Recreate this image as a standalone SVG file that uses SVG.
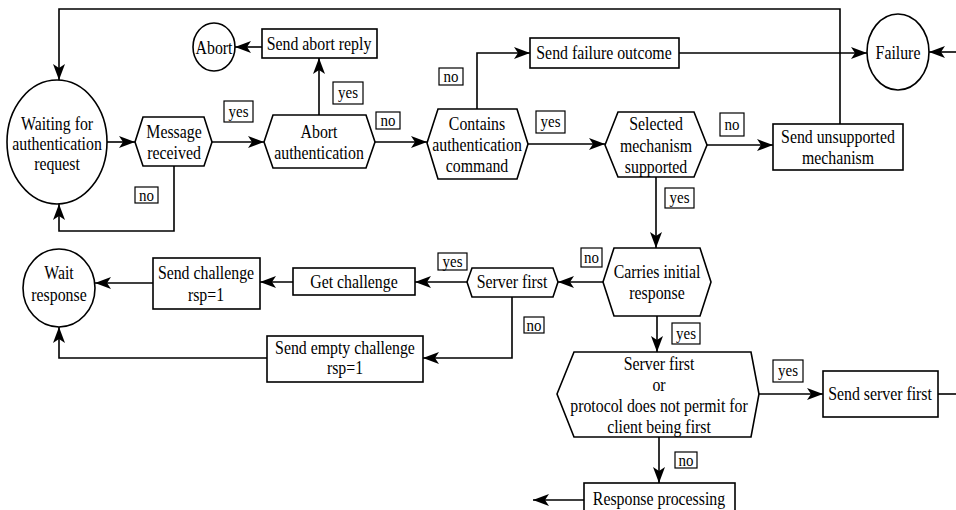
<svg xmlns="http://www.w3.org/2000/svg" width="956" height="510" viewBox="0 0 956 510">
<defs>
<marker id="ah" markerUnits="userSpaceOnUse" markerWidth="18" markerHeight="14" refX="16" refY="6" orient="auto">
<path d="M0,0 L16,6 L0,12 L4,6 z" fill="#000"/>
</marker>
<style>
.n{fill:#fff;stroke:#000;stroke-width:1.6}
.c{fill:none;stroke:#000;stroke-width:1.6;marker-end:url(#ah)}
.p{fill:none;stroke:#000;stroke-width:1.6}
text{font-family:'Liberation Serif','Times New Roman',serif;fill:#000;text-anchor:middle;dominant-baseline:central;transform-box:fill-box;transform-origin:center;transform:scaleX(0.88)}
.t{font-size:18px}
.lb{fill:#fff;stroke:#000;stroke-width:1.2}
.lt{font-size:17px}
</style>
</defs>
<rect width="956" height="510" fill="#fff"/>

<g id="connectors">
<path class="c" d="M840,124 V9 H59 V80"/>
<path class="c" d="M107,142 H135"/>
<path class="c" d="M174,166 V231 H59 V204"/>
<path class="c" d="M212,142 H264"/>
<path class="c" d="M319,115 V58"/>
<path class="c" d="M262,47 H235"/>
<path class="c" d="M375,142 H427"/>
<path class="c" d="M477,109 V53 H530"/>
<path class="c" d="M679,53 H867"/>
<path class="c" d="M956,52 H929"/>
<path class="c" d="M528,144 H605"/>
<path class="c" d="M707,145 H773"/>
<path class="c" d="M656,177 V248"/>
<path class="c" d="M603,282 H558"/>
<path class="c" d="M467,282 H415"/>
<path class="c" d="M293,282 H260"/>
<path class="c" d="M153,283 H95"/>
<path class="c" d="M512,297 V358 H423"/>
<path class="c" d="M267,358 H59 V327"/>
<path class="c" d="M657,316 V352"/>
<path class="c" d="M759,394 H823"/>
<path class="p" d="M938,394 H956"/>
<path class="c" d="M659,437 V483"/>
<path class="c" d="M584,500 H533"/>
</g>

<g id="waiting">
<ellipse class="n" cx="57" cy="142" rx="50" ry="62"/>
<text class="t" x="57" y="124">Waiting for</text>
<text class="t" x="57" y="144">authentication</text>
<text class="t" x="57" y="164">request</text>
</g>
<g id="message-received">
<path class="n" d="M135,142 L143,117 H204 L212,142 L204,166 H143 Z"/>
<text class="t" x="174" y="132">Message</text>
<text class="t" x="174" y="153">received</text>
</g>
<g id="abort-auth">
<path class="n" d="M264,142 L273,115 H366 L375,142 L366,168 H273 Z"/>
<text class="t" x="319" y="132">Abort</text>
<text class="t" x="319" y="153">authentication</text>
</g>
<g id="send-abort-reply">
<rect class="n" x="262" y="29" width="115" height="29"/>
<text class="t" x="319" y="44">Send abort reply</text>
</g>
<g id="abort">
<ellipse class="n" cx="214" cy="47" rx="21" ry="24"/>
<text class="t" x="214" y="48">Abort</text>
</g>
<g id="contains">
<path class="n" d="M427,143 L438,109 H517 L528,144 L517,179 H438 Z"/>
<text class="t" x="477" y="124">Contains</text>
<text class="t" x="477" y="145">authentication</text>
<text class="t" x="477" y="166">command</text>
</g>
<g id="send-failure-outcome">
<rect class="n" x="530" y="38" width="149" height="30"/>
<text class="t" x="604" y="53">Send failure outcome</text>
</g>
<g id="failure">
<ellipse class="n" cx="898" cy="52" rx="31" ry="38"/>
<text class="t" x="898" y="53">Failure</text>
</g>
<g id="selected">
<path class="n" d="M605,145 L618,112 H694 L707,145 L694,177 H618 Z"/>
<text class="t" x="656" y="124">Selected</text>
<text class="t" x="656" y="146">mechanism</text>
<text class="t" x="656" y="167">supported</text>
</g>
<g id="send-unsupported">
<rect class="n" x="773" y="124" width="130" height="46"/>
<text class="t" x="838" y="137">Send unsupported</text>
<text class="t" x="838" y="158">mechanism</text>
</g>
<g id="carries">
<path class="n" d="M603,282 L614,248 H700 L711,282 L700,316 H614 Z"/>
<text class="t" x="657" y="272">Carries initial</text>
<text class="t" x="657" y="293">response</text>
</g>
<g id="server-first">
<path class="n" d="M467,282 L472,268 H553 L558,282 L553,297 H472 Z"/>
<text class="t" x="512" y="282">Server first</text>
</g>
<g id="get-challenge">
<rect class="n" x="293" y="268" width="122" height="27"/>
<text class="t" x="354" y="282">Get challenge</text>
</g>
<g id="send-challenge">
<rect class="n" x="153" y="258" width="107" height="51"/>
<text class="t" x="206" y="273">Send challenge</text>
<text class="t" x="206" y="295">rsp=1</text>
</g>
<g id="wait-response">
<ellipse class="n" cx="59" cy="288" rx="36" ry="39"/>
<text class="t" x="59" y="273">Wait</text>
<text class="t" x="59" y="295">response</text>
</g>
<g id="send-empty-challenge">
<rect class="n" x="267" y="336" width="156" height="46"/>
<text class="t" x="345" y="348">Send empty challenge</text>
<text class="t" x="345" y="368">rsp=1</text>
</g>
<g id="server-first-or-protocol">
<path class="n" d="M557,394 L574,352 H751 L759,394 L751,437 H574 Z"/>
<text class="t" x="659" y="364">Server first</text>
<text class="t" x="659" y="385">or</text>
<text class="t" x="659" y="406">protocol does not permit for</text>
<text class="t" x="659" y="427">client being first</text>
</g>
<g id="send-server-first">
<rect class="n" x="823" y="371" width="115" height="46"/>
<text class="t" x="880" y="394">Send server first</text>
</g>
<g id="response-processing">
<rect class="n" x="584" y="483" width="151" height="32"/>
<text class="t" x="659" y="499">Response processing</text>
</g>

<g id="labels">
<rect class="lb" x="224" y="101" width="29" height="21"/><text class="lt" x="238.5" y="111">yes</text>
<rect class="lb" x="135" y="187" width="23" height="16"/><text class="lt" x="146.5" y="195">no</text>
<rect class="lb" x="333" y="82" width="30" height="22"/><text class="lt" x="348" y="92">yes</text>
<rect class="lb" x="376" y="112" width="24" height="17"/><text class="lt" x="388" y="120">no</text>
<rect class="lb" x="439" y="68" width="24" height="17"/><text class="lt" x="451" y="76">no</text>
<rect class="lb" x="536" y="111" width="29" height="22"/><text class="lt" x="550.5" y="121">yes</text>
<rect class="lb" x="720" y="113" width="24" height="23"/><text class="lt" x="732" y="124">no</text>
<rect class="lb" x="665" y="188" width="29" height="20"/><text class="lt" x="679.5" y="197">yes</text>
<rect class="lb" x="581" y="248" width="21" height="19"/><text class="lt" x="591.5" y="257">no</text>
<rect class="lb" x="438" y="253" width="29" height="17"/><text class="lt" x="452.5" y="261">yes</text>
<rect class="lb" x="524" y="317" width="20" height="16"/><text class="lt" x="534" y="325">no</text>
<rect class="lb" x="672" y="323" width="28" height="21"/><text class="lt" x="686" y="333">yes</text>
<rect class="lb" x="773" y="360" width="30" height="22"/><text class="lt" x="788" y="370">yes</text>
<rect class="lb" x="675" y="452" width="22" height="16"/><text class="lt" x="686" y="460">no</text>
</g>
</svg>
